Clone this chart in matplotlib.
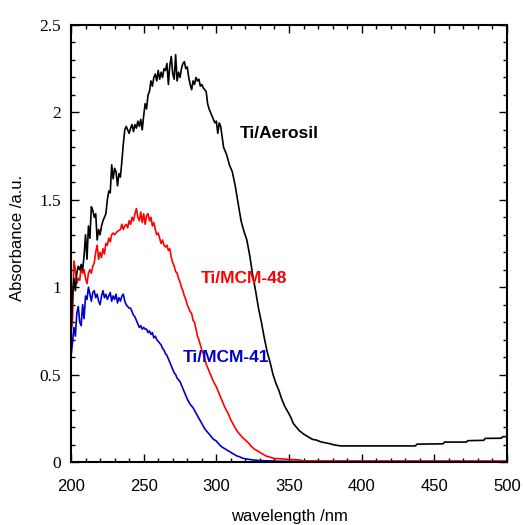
import matplotlib
matplotlib.use("Agg")
import matplotlib.pyplot as plt
from matplotlib.ticker import MultipleLocator, FuncFormatter

# Ti/Aerosil (black)
wl_aerosil = [200, 201, 202, 203, 204, 205, 206, 207, 208, 209, 210, 211, 212, 213, 214, 215,
              216, 217, 218, 219, 220, 221, 222, 223, 224, 225, 226, 227, 228, 229, 230, 231,
              232, 233, 234, 235, 236, 237, 238, 239, 240, 241, 242, 243, 244, 245, 246, 247,
              248, 249, 250, 251, 252, 253, 254, 255, 256, 257, 258, 259, 260, 261, 262, 263,
              264, 265, 266, 267, 268, 269, 270, 271, 272, 273, 274, 275, 276, 277, 278, 279,
              280, 281, 282, 283, 284, 285, 286, 287, 288, 289, 290, 291, 292, 293, 294, 295,
              296, 297, 298, 299, 300, 301, 302, 303, 304, 305, 307, 309, 311, 313, 315, 317,
              319, 321, 323, 325, 327, 329, 331, 333, 335, 337, 339, 341, 343, 345, 347, 349,
              351, 353, 355, 357, 360, 363, 366, 369, 372, 375, 378, 380, 383, 386, 400, 420,
              437, 438, 456, 457, 472, 473, 484, 485, 496, 497, 500]
abs_aerosil = [0.72, 0.95, 1.05, 0.98, 1.08, 1.12, 1.10, 1.13, 1.10, 1.18, 1.30, 1.16, 1.35, 1.28, 1.46, 1.44,
               1.40, 1.42, 1.27, 1.33, 1.30, 1.35, 1.38, 1.40, 1.42, 1.50, 1.55, 1.54, 1.70, 1.62, 1.68, 1.66,
               1.58, 1.65, 1.63, 1.72, 1.82, 1.90, 1.92, 1.90, 1.88, 1.91, 1.93, 1.89, 1.93, 1.91, 1.95, 1.92,
               1.96, 1.90, 1.98, 2.05, 2.02, 2.10, 2.12, 2.18, 2.15, 2.20, 2.22, 2.18, 2.24, 2.19, 2.23, 2.20,
               2.25, 2.24, 2.28, 2.16, 2.27, 2.32, 2.22, 2.19, 2.33, 2.18, 2.23, 2.20, 2.25, 2.28, 2.29, 2.25,
               2.26, 2.20, 2.16, 2.13, 2.18, 2.16, 2.20, 2.18, 2.19, 2.15, 2.16, 2.14, 2.13, 2.12, 2.05, 2.02,
               2.00, 1.98, 1.96, 1.94, 1.95, 1.88, 1.94, 1.92, 1.86, 1.80, 1.76, 1.70, 1.66, 1.58, 1.48, 1.38,
               1.32, 1.27, 1.18, 1.07, 0.98, 0.88, 0.80, 0.71, 0.63, 0.57, 0.50, 0.45, 0.41, 0.36, 0.32, 0.29,
               0.26, 0.22, 0.20, 0.18, 0.16, 0.145, 0.13, 0.125, 0.115, 0.11, 0.105, 0.10, 0.095, 0.092, 0.092, 0.092,
               0.092, 0.102, 0.104, 0.114, 0.114, 0.122, 0.124, 0.135, 0.136, 0.145, 0.145]

# Ti/MCM-48 (red)
wl_mcm48 = [200, 201, 202, 203, 204, 205, 206, 207, 208, 209, 210, 211, 212, 213, 214, 215,
            216, 217, 218, 219, 220, 221, 222, 223, 224, 225, 226, 227, 228, 229, 230, 232,
            234, 235, 236, 237, 238, 239, 240, 241, 242, 243, 244, 245, 246, 247, 248, 249,
            250, 251, 252, 253, 254, 255, 256, 257, 258, 259, 260, 261, 262, 263, 264, 265,
            266, 267, 268, 269, 270, 271, 272, 273, 274, 275, 276, 277, 278, 279, 280, 281,
            282, 283, 284, 285, 286, 287, 288, 289, 290, 291, 292, 293, 294, 295, 296, 297,
            298, 300, 302, 304, 306, 308, 310, 312, 314, 316, 318, 320, 322, 324, 326, 328,
            330, 332, 334, 336, 338, 340, 345, 350, 357, 360, 400, 500]
abs_mcm48 = [0.75, 0.80, 1.15, 1.10, 1.02, 1.05, 1.04, 1.12, 1.08, 1.10, 1.05, 1.02, 1.08, 1.10, 1.08, 1.12,
             1.14, 1.20, 1.24, 1.16, 1.20, 1.17, 1.22, 1.19, 1.25, 1.24, 1.28, 1.26, 1.30, 1.31, 1.30, 1.32,
             1.33, 1.36, 1.33, 1.35, 1.36, 1.34, 1.38, 1.36, 1.40, 1.38, 1.42, 1.45, 1.40, 1.38, 1.43, 1.37,
             1.42, 1.36, 1.41, 1.42, 1.38, 1.40, 1.35, 1.37, 1.33, 1.30, 1.31, 1.28, 1.25, 1.27, 1.24, 1.23,
             1.24, 1.21, 1.22, 1.17, 1.14, 1.12, 1.09, 1.08, 1.05, 1.03, 1.00, 0.98, 0.95, 0.93, 0.90, 0.88,
             0.86, 0.85, 0.81, 0.80, 0.76, 0.72, 0.70, 0.67, 0.64, 0.62, 0.59, 0.56, 0.54, 0.52, 0.50, 0.48,
             0.46, 0.43, 0.39, 0.35, 0.31, 0.28, 0.24, 0.21, 0.18, 0.16, 0.14, 0.125, 0.11, 0.09, 0.075, 0.065,
             0.055, 0.045, 0.035, 0.03, 0.025, 0.02, 0.018, 0.015, 0.012, 0.006, 0.005, 0.005]

# Ti/MCM-41 (blue)
wl_mcm41 = [200, 201, 202, 203, 204, 205, 206, 207, 208, 209, 210, 211, 212, 213, 214, 215,
            216, 217, 218, 219, 220, 221, 222, 223, 224, 225, 226, 227, 228, 229, 230, 231,
            232, 233, 234, 235, 236, 237, 238, 239, 240, 241, 242, 243, 244, 245, 246, 247,
            248, 249, 250, 251, 252, 253, 254, 255, 256, 257, 258, 259, 260, 261, 262, 263,
            264, 265, 266, 267, 268, 269, 270, 271, 272, 273, 274, 275, 276, 277, 278, 279,
            280, 282, 284, 286, 288, 290, 292, 294, 296, 298, 300, 302, 304, 306, 308, 310,
            312, 314, 316, 318, 320, 325, 330, 340, 345, 500]
abs_mcm41 = [0.60, 0.68, 0.77, 0.72, 0.85, 0.89, 0.80, 0.78, 0.90, 0.82, 0.95, 0.93, 1.00, 0.96, 0.92, 0.97,
             0.98, 0.94, 0.96, 0.92, 0.90, 0.95, 0.98, 0.94, 0.96, 0.93, 0.95, 0.97, 0.92, 0.95, 0.93, 0.96,
             0.91, 0.94, 0.92, 0.95, 0.96, 0.92, 0.90, 0.89, 0.88, 0.88, 0.86, 0.84, 0.83, 0.81, 0.79, 0.77,
             0.78, 0.76, 0.77, 0.76, 0.76, 0.74, 0.75, 0.73, 0.74, 0.71, 0.72, 0.70, 0.69, 0.68, 0.67, 0.65,
             0.64, 0.62, 0.61, 0.59, 0.57, 0.55, 0.53, 0.51, 0.50, 0.48, 0.47, 0.46, 0.44, 0.42, 0.40, 0.38,
             0.36, 0.33, 0.31, 0.28, 0.25, 0.22, 0.19, 0.17, 0.15, 0.13, 0.12, 0.10, 0.085, 0.075, 0.065, 0.055,
             0.045, 0.035, 0.03, 0.022, 0.018, 0.012, 0.008, 0.005, 0.004, 0.003]

fig = plt.figure(figsize=(5.23, 5.25), dpi=100)
ax = fig.add_axes([71 / 523, 1 - 462 / 525, 436 / 523, 437 / 525])

ax.plot(wl_mcm41, abs_mcm41, color="#0000cc", lw=1.2)
ax.plot(wl_mcm48, abs_mcm48, color="#ff0000", lw=1.2)
ax.plot(wl_aerosil, abs_aerosil, color="black", lw=1.2)

ax.set_xlim(200, 500)
ax.set_ylim(0, 2.5)
ax.xaxis.set_major_locator(MultipleLocator(50))
ax.xaxis.set_minor_locator(MultipleLocator(10))
ax.yaxis.set_major_locator(MultipleLocator(0.5))
ax.yaxis.set_minor_locator(MultipleLocator(0.1))
ax.yaxis.set_major_formatter(FuncFormatter(lambda v, p: "%g" % v))

ax.tick_params(which="both", direction="in", top=True, right=True, width=1)
ax.tick_params(which="major", length=6)
ax.tick_params(which="minor", length=3)
ax.tick_params(axis="x", pad=12, labelsize=12)
ax.tick_params(axis="y", pad=7, labelsize=12.5)
for lab in ax.get_xticklabels():
    lab.set_family("Liberation Sans")
for lab in ax.get_yticklabels():
    lab.set_family("Liberation Serif")
for sp in ax.spines.values():
    sp.set_linewidth(1.5)

ax.set_xlabel("wavelength /nm", family="Liberation Sans", fontsize=12)
ax.set_ylabel("Absorbance /a.u.", family="Liberation Sans", fontsize=12)
ax.xaxis.set_label_coords(0.5, -0.108)
ax.yaxis.set_label_coords(-0.106, 0.512)

# curve labels
ax.text(316, 1.88, "Ti/Aerosil", color="black", fontsize=12.5, fontweight="bold",
        family="Liberation Sans", va="center", ha="left")
ax.text(289, 1.05, "Ti/MCM-48", color="#ff0000", fontsize=12.5, fontweight="bold",
        family="Liberation Sans", va="center", ha="left")
ax.text(277, 0.595, "Ti/MCM-41", color="#0000cc", fontsize=12.5, fontweight="bold",
        family="Liberation Sans", va="center", ha="left")

fig.savefig("out.png", dpi=100)
